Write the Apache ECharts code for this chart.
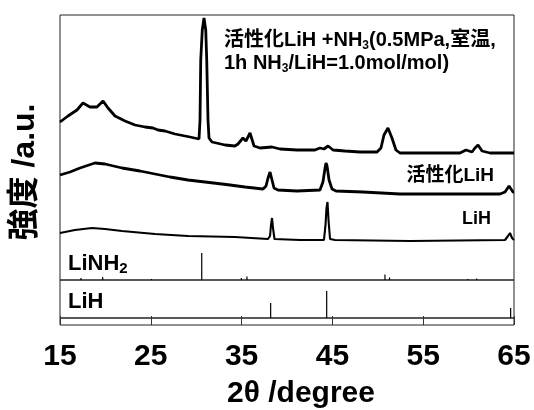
<!DOCTYPE html>
<html>
<head>
<meta charset="utf-8">
<script src="https://cdn.jsdelivr.net/npm/echarts@6.0.0/dist/echarts.min.js"></script>
<style>html,body{margin:0;padding:0;background:#fff}#c{width:534px;height:410px}</style>
</head>
<body>
<div id="c"></div>
<script>
// 2θ (degree) and intensity (a.u., offset traces)
const topTheta = [15.00,15.88,16.87,17.53,18.30,19.07,19.74,20.29,21.06,22.16,23.26,24.36,25.24,25.79,26.56,27.67,29.32,30.31,30.42,30.50,30.67,30.86,31.05,31.16,31.30,31.41,31.74,33.17,34.27,34.60,35.15,35.48,35.93,36.37,37.03,38.35,39.23,41.10,43.08,43.63,44.07,44.52,45.07,46.39,48.04,49.91,50.35,50.68,51.12,51.56,52.00,52.44,53.55,55.75,59.05,59.71,59.93,60.37,60.70,61.04,61.48,62.36,64.89,65.00];
const topInt   = [158,164,170,177,173,173,179,172,164,159,155,153,152,150,149,146,143,141,160,220,250,262,250,220,160,142,138,135,134,136,142,139,147,134,132,133,131,130,130,132,131,134,130,129,128,128,132,145,152,142,130,127,127,127,127,130,132,128,132,135,129,127,127,127];

const midTheta = [15.00,16.10,17.20,18.85,19.96,21.83,23.81,25.46,27.11,29.10,30.97,32.84,33.72,35.37,37.36,37.69,37.91,38.13,38.35,38.57,39.00,41.10,43.63,43.96,44.19,44.30,44.41,44.63,44.96,45.40,48.37,52.44,57.95,63.46,64.01,64.45,64.67,64.89,65.00];
const midInt   = [105,108,112,117,116,112,109,106,103,100,98,96,95,93,91,94,102,108,100,92,90,89,90,98,112,117,114,100,91,89,88,86,86,86,88,94,91,88,88];

const lihTheta = [15.00,16.65,18.52,19.96,21.83,25.46,29.10,34.27,37.91,38.13,38.24,38.35,38.46,38.62,41.43,44.07,44.24,44.35,44.46,44.57,44.74,45.29,53.55,64.01,64.34,64.56,64.78,65.00];
const lihInt   = [47,50,52,51,49,46,44,43,41,44,55,62,52,41,40,40,55,72,78,60,41,40,39,40,44,47,42,40];

// reference stick patterns
const linh2Pos = [17.31,19.70,25.08,30.61,34.97,35.59,50.79,51.29,59.90,60.89];
const linh2Int = [2,3,1,27,2,3.5,5.5,2.5,1,1.5];
const lihRefPos = [38.20,44.37,64.63];
const lihRefInt = [15,27,10];

const xTicks = [15,25,35,45,55,65];

const zip = (a,b) => a.map((v,i)=>[v,b[i]]);
const LAT = "'Liberation Sans', Arial, 'Noto Sans CJK JP', sans-serif";

function stick(params, api){
  const x = api.value(0), h = api.value(1);
  const p0 = api.coord([x,0]), p1 = api.coord([x,h]);
  return {type:'line', shape:{x1:p0[0],y1:p0[1],x2:p1[0],y2:p1[1]}, style:{stroke:'#000', lineWidth:1.2}};
}

const chart = echarts.init(document.getElementById('c'), null, {renderer:'canvas'});
const gl = 60, gr = 534-514;
const border = {show:true, borderColor:'#222', borderWidth:1, backgroundColor:'transparent'};
const hiddenX = (i)=>({gridIndex:i, type:'value', min:xTicks[0], max:xTicks[xTicks.length-1], interval:10, show:false});
chart.setOption({
  animation:false,
  grid:[
    Object.assign({left:gl, right:gr, top:15, height:265}, border),
    Object.assign({left:gl, right:gr, top:280, height:38}, border),
    Object.assign({left:gl, right:gr, top:318, height:18}, border)
  ],
  xAxis:[
    hiddenX(0), hiddenX(1),
    {gridIndex:2, type:'value', min:xTicks[0], max:xTicks[xTicks.length-1], interval:10,
     axisLine:{show:false}, splitLine:{show:false},
     axisTick:{show:true, inside:true, length:9, lineStyle:{color:'#333', width:1}},
     axisLabel:{fontSize:30, fontWeight:'bold', color:'#000', fontFamily:LAT, margin:17},
     name:'2θ /degree', nameLocation:'middle', nameGap:54,
     nameTextStyle:{fontSize:30, fontWeight:'bold', color:'#000', fontFamily:LAT, padding:[0,0,0,28]}}
  ],
  yAxis:[
    {gridIndex:0, type:'value', min:0, max:265, show:false},
    {gridIndex:1, type:'value', min:0, max:38, show:false},
    {gridIndex:2, type:'value', min:0, max:1, show:false}
  ],
  series:[
    {type:'line', xAxisIndex:0, yAxisIndex:0, data:zip(topTheta,topInt), showSymbol:false, lineStyle:{color:'#000', width:2.8}},
    {type:'line', xAxisIndex:0, yAxisIndex:0, data:zip(midTheta,midInt), showSymbol:false, lineStyle:{color:'#000', width:2.8}},
    {type:'line', xAxisIndex:0, yAxisIndex:0, data:zip(lihTheta,lihInt), showSymbol:false, lineStyle:{color:'#000', width:2.1}},
    {type:'custom', xAxisIndex:0, yAxisIndex:0, data:zip(linh2Pos,linh2Int), renderItem:stick},
    {type:'custom', xAxisIndex:1, yAxisIndex:1, data:zip(lihRefPos,lihRefInt), renderItem:stick}
  ],
  graphic:[
    {type:'text', x:25, y:172, rotation:Math.PI/2, style:{text:'強度 /a.u.', font:"bold 32px "+LAT, fill:'#000', align:'center', verticalAlign:'middle'}},
    {type:'text', x:224, y:29, style:{
      text:'活性化LiH +NH{s|3}(0.5MPa,室温,\n1h NH{s|3}/LiH=1.0mol/mol)',
      font:"bold 20px "+LAT, fill:'#000', lineHeight:23,
      rich:{s:{fontSize:12, fontWeight:'bold', fontFamily:LAT, lineHeight:8, verticalAlign:'bottom', fill:'#000'}}}},
    {type:'text', x:494, y:185, style:{text:'活性化LiH', font:"bold 19px "+LAT, fill:'#000', align:'right', verticalAlign:'bottom'}},
    {type:'text', x:491, y:228, style:{text:'LiH', font:"bold 18px "+LAT, fill:'#000', align:'right', verticalAlign:'bottom'}},
    {type:'text', x:68, y:251, style:{text:'LiNH{s|2}', font:"bold 22px "+LAT, fill:'#000', lineHeight:25,
      rich:{s:{fontSize:15, fontWeight:'bold', fontFamily:LAT, lineHeight:10, verticalAlign:'bottom', fill:'#000'}}}},
    {type:'text', x:68, y:291, style:{text:'LiH', font:"bold 22px "+LAT, fill:'#000'}}
  ]
});
</script>
</body>
</html>
